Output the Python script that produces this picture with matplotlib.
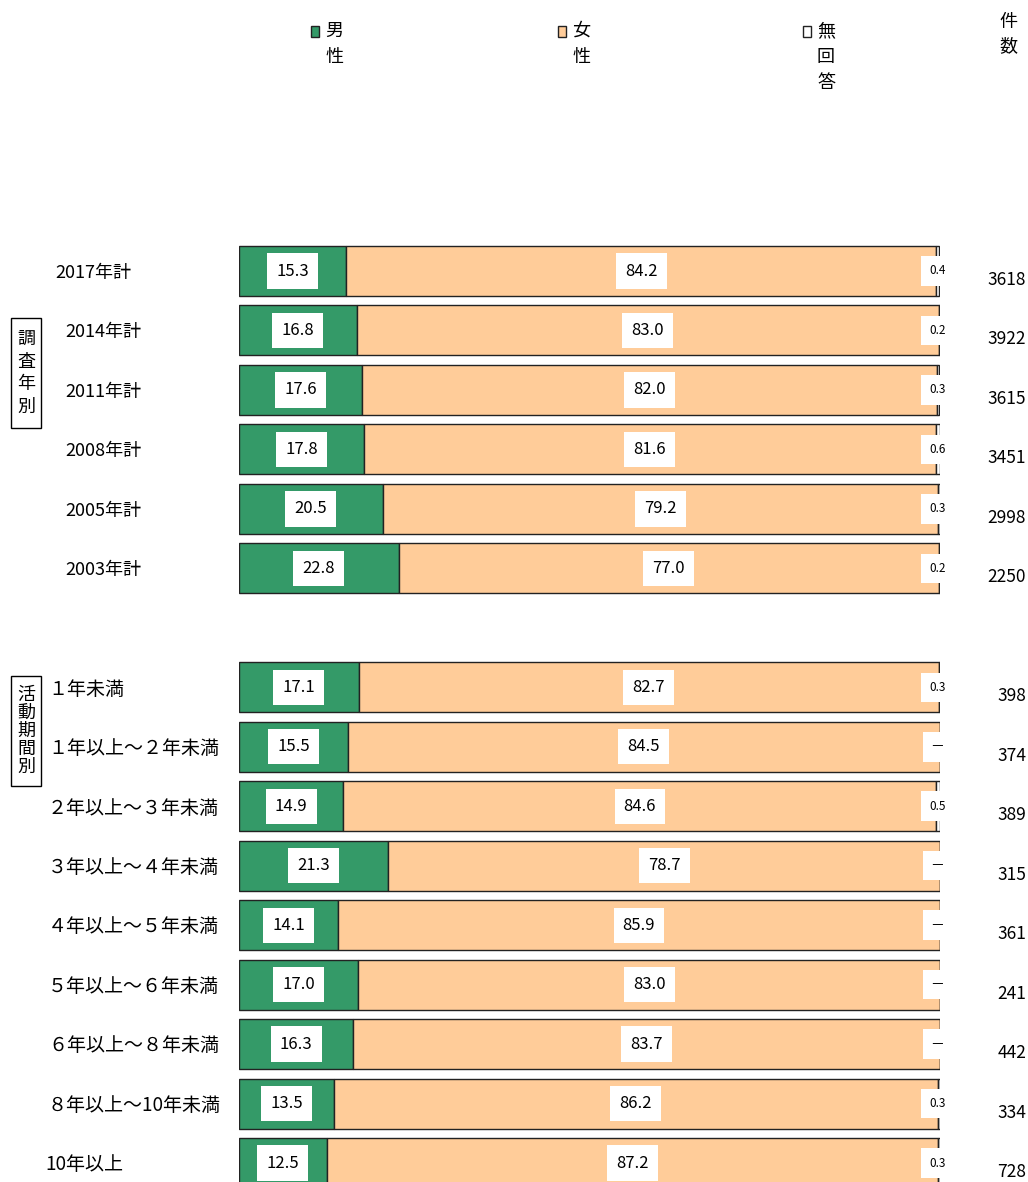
import matplotlib.pyplot as plt
import matplotlib.transforms as mtransforms

plt.rcParams['font.family'] = ['Noto Sans CJK JP', 'DejaVu Sans']

# data
year_labels = ['2017年計', '2014年計', '2011年計', '2008年計', '2005年計', '2003年計']
year_male = [15.3, 16.8, 17.6, 17.8, 20.5, 22.8]
year_female = [84.2, 83.0, 82.0, 81.6, 79.2, 77.0]
year_na = [0.4, 0.2, 0.3, 0.6, 0.3, 0.2]
year_n = [3618, 3922, 3615, 3451, 2998, 2250]

period_labels = ['１年未満', '１年以上～２年未満', '２年以上～３年未満', '３年以上～４年未満',
                 '４年以上～５年未満', '５年以上～６年未満', '６年以上～８年未満',
                 '８年以上～10年未満', '10年以上']
period_male = [17.1, 15.5, 14.9, 21.3, 14.1, 17.0, 16.3, 13.5, 12.5]
period_female = [82.7, 84.5, 84.6, 78.7, 85.9, 83.0, 83.7, 86.2, 87.2]
period_na = [0.3, 0.0, 0.5, 0.0, 0.0, 0.0, 0.0, 0.3, 0.3]
period_n = [398, 374, 389, 315, 361, 241, 442, 334, 728]

legend_labels = ['男性', '女性', '無回答']
colors = ['#349a68', '#ffcc99', '#ffffff']

W, H = 1028, 1182
fig = plt.figure(figsize=(W / 100, H / 100), dpi=100)

# row positions: group 1 rows 0..5, blank row, group 2 rows 7..15
ypos = list(range(len(year_labels))) + [len(year_labels) + 1 + i for i in range(len(period_labels))]
labels = year_labels + period_labels
male = year_male + period_male
female = year_female + period_female
na = year_na + period_na
counts = year_n + period_n

pitch = 59.47
top_row_px = 271
ax = fig.add_axes([239 / W, 0, 701 / W, 1])
ax.set_xlim(0, 100)
ax.set_ylim((H - top_row_px) / pitch, -top_row_px / pitch)
ax.axis('off')

bh = 0.84
ax.barh(ypos, male, height=bh, color=colors[0], edgecolor='#222222', linewidth=1)
ax.barh(ypos, female, left=male, height=bh, color=colors[1], edgecolor='#222222', linewidth=1)
ax.barh(ypos, na, left=[m + f for m, f in zip(male, female)], height=bh,
        color=colors[2], edgecolor='#222222', linewidth=1)

box = dict(boxstyle='square,pad=0.55', fc='white', ec='none')
for y, m, f, a in zip(ypos, male, female, na):
    ax.text(m / 2, y, f'{m:.1f}', ha='center', va='center', fontsize=12, bbox=box)
    ax.text(m + f / 2, y, f'{f:.1f}', ha='center', va='center', fontsize=12, bbox=box)
    ax.text(99.6, y, f'{a:.1f}' if a > 0 else '―', ha='center', va='center', fontsize=8.5,
            bbox=dict(boxstyle='square,pad=0.7', fc='white', ec='none'), clip_on=False)

# text outside the bars: x in figure pixels, y in rows
tr = mtransforms.blended_transform_factory(
    mtransforms.Affine2D().scale(1 / W, 1) + fig.transFigure, ax.transData)
for i, (y, lab, c) in enumerate(zip(ypos, labels, counts)):
    if i < len(year_labels):
        x = 55 if i == 0 else 65
        fs = 13
    else:
        x = 45 if lab == '10年以上' else 48
        fs = 13.7
    ax.text(x, y + 0.03, lab, transform=tr, ha='left', va='center', fontsize=fs, clip_on=False)
    ax.text(1026, y + 0.15, str(c), transform=tr, ha='right', va='center', fontsize=12.5, clip_on=False)

# figure pixel helpers (y from top)
def fx(x):
    return x / W


def fy(y):
    return 1 - y / H


# group boxes with vertical titles
for title, y0, y1 in [('調査年別', 318, 428), ('活動期間別', 676, 786)]:
    fig.add_artist(plt.Rectangle((fx(11), fy(y1)), 30 / W, (y1 - y0) / H,
                                 transform=fig.transFigure, fill=False, ec='black', lw=1))
    step = (y1 - y0 - 20) / len(title)
    for k, ch in enumerate(title):
        fig.text(fx(26), fy(y0 + 10 + step * (k + 0.5)), ch, ha='center', va='center', fontsize=13)

# legend
for lab, col, lx in zip(legend_labels, colors, [311, 558, 803]):
    fig.add_artist(plt.Rectangle((fx(lx), fy(37)), 8 / W, 11 / H, transform=fig.transFigure,
                                 fc=col, ec='#222222', lw=1))
    for k, ch in enumerate(lab):
        fig.text(fx(lx + 23), fy(31 + 26 * k), ch, ha='center', va='center', fontsize=13)

for k, ch in enumerate('件数'):
    fig.text(fx(1008), fy(22 + 24 * k), ch, ha='center', va='center', fontsize=13)

fig.savefig('out.png', dpi=100)
